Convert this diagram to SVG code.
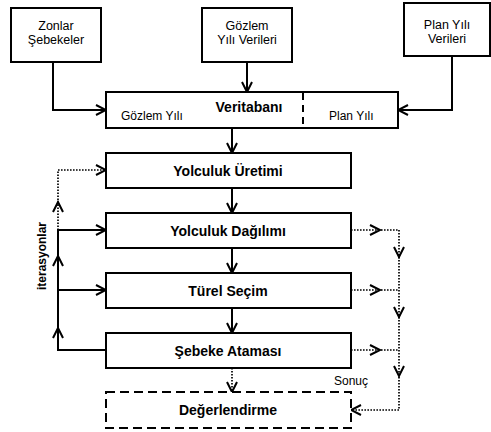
<svg xmlns="http://www.w3.org/2000/svg" width="491" height="432" viewBox="0 0 491 432">
<defs>
<style>
.box{fill:#fff;stroke:#000;stroke-width:2}
.dbox{fill:#fff;stroke:#000;stroke-width:2;stroke-dasharray:9 5}
.ln{fill:none;stroke:#000;stroke-width:2}
.dot{fill:none;stroke:#000;stroke-width:1.7;stroke-dasharray:1.6 1.4}
.chev{fill:none;stroke:#000;stroke-width:2}
.t{font-family:"Liberation Sans",Arial,sans-serif;font-size:12.5px;fill:#000;text-anchor:middle}
.s{font-family:"Liberation Sans",Arial,sans-serif;font-size:12px;fill:#000}
.b{font-family:"Liberation Sans",Arial,sans-serif;font-size:14px;font-weight:bold;fill:#000;text-anchor:middle}
</style>
<marker id="ah" markerUnits="userSpaceOnUse" markerWidth="12" markerHeight="12" viewBox="0 0 12 12" refX="11" refY="6" orient="auto">
<path d="M1,1 L11,6 L1,11" fill="none" stroke="#000" stroke-width="2"/>
</marker>
</defs>
<rect width="491" height="432" fill="#fff"/>

<g id="connectors">
<path class="ln" d="M53,62 V110 H106" marker-end="url(#ah)"/>
<path class="ln" d="M247,62 V92" marker-end="url(#ah)"/>
<path class="ln" d="M452,56 V110 H398" marker-end="url(#ah)"/>
<path class="ln" d="M232,128 V153" marker-end="url(#ah)"/>
<path class="ln" d="M232,188 V213" marker-end="url(#ah)"/>
<path class="ln" d="M232,248 V273" marker-end="url(#ah)"/>
<path class="ln" d="M232,308 V333" marker-end="url(#ah)"/>
<path class="dot" d="M232,368 V392" marker-end="url(#ah)"/>
<path class="ln" d="M106,350 H58 V230 H106" marker-end="url(#ah)"/>
<path class="ln" d="M58,290 H106" marker-end="url(#ah)"/>
<path class="chev" d="M53,266 L58,256 L63,266"/>
<path class="chev" d="M53,338 L58,328 L63,338"/>
<path class="dot" d="M58,230 V170 H106" marker-end="url(#ah)"/>
<path class="chev" d="M53,212 L58,202 L63,212"/>
<path class="dot" d="M351,230 H399 V410 H351" marker-end="url(#ah)"/>
<path class="dot" d="M351,290 H399"/>
<path class="dot" d="M351,350 H399"/>
<path class="chev" d="M370,225 L380,230 L370,235"/>
<path class="chev" d="M370,285 L380,290 L370,295"/>
<path class="chev" d="M370,345 L380,350 L370,355"/>
<path class="chev" d="M394,247 L399,257 L404,247"/>
<path class="chev" d="M394,307 L399,317 L404,307"/>
<path class="chev" d="M394,366 L399,376 L404,366"/>
<text class="b" style="font-size:12px" transform="translate(46,256) rotate(-90)">iterasyonlar</text>
<text class="s" x="334" y="385">Sonuç</text>
</g>

<g id="zonlar">
<rect class="box" x="11" y="8" width="90" height="54"/>
<text class="t" x="56" y="30">Zonlar</text>
<text class="t" x="56" y="44">Şebekeler</text>
</g>
<g id="gozlem">
<rect class="box" x="202" y="8" width="90" height="54"/>
<text class="t" x="247" y="30">Gözlem</text>
<text class="t" x="247" y="44">Yılı Verileri</text>
</g>
<g id="plan">
<rect class="box" x="404" y="3" width="86" height="53"/>
<text class="t" x="447" y="29">Plan Yılı</text>
<text class="t" x="447" y="43">Verileri</text>
</g>
<g id="veritabani">
<rect class="box" x="106" y="92" width="292" height="36"/>
<line x1="303" y1="93" x2="303" y2="127" stroke="#000" stroke-width="2" stroke-dasharray="7 5"/>
<text class="b" x="249" y="112">Veritabanı</text>
<text class="s" x="121" y="120">Gözlem Yılı</text>
<text class="s" x="329" y="120">Plan Yılı</text>
</g>
<g id="uretim">
<rect class="box" x="106" y="153" width="245" height="35"/>
<text class="b" x="228" y="175.5">Yolculuk Üretimi</text>
</g>
<g id="dagilim">
<rect class="box" x="106" y="213" width="245" height="35"/>
<text class="b" x="228" y="235.5">Yolculuk Dağılımı</text>
</g>
<g id="turel">
<rect class="box" x="106" y="273" width="245" height="35"/>
<text class="b" x="228" y="295.5">Türel Seçim</text>
</g>
<g id="atama">
<rect class="box" x="106" y="333" width="245" height="35"/>
<text class="b" x="228" y="355.5">Şebeke Ataması</text>
</g>
<g id="degerlendirme">
<rect class="dbox" x="106" y="392" width="245" height="36"/>
<text class="b" x="228" y="415">Değerlendirme</text>
</g>
</svg>
